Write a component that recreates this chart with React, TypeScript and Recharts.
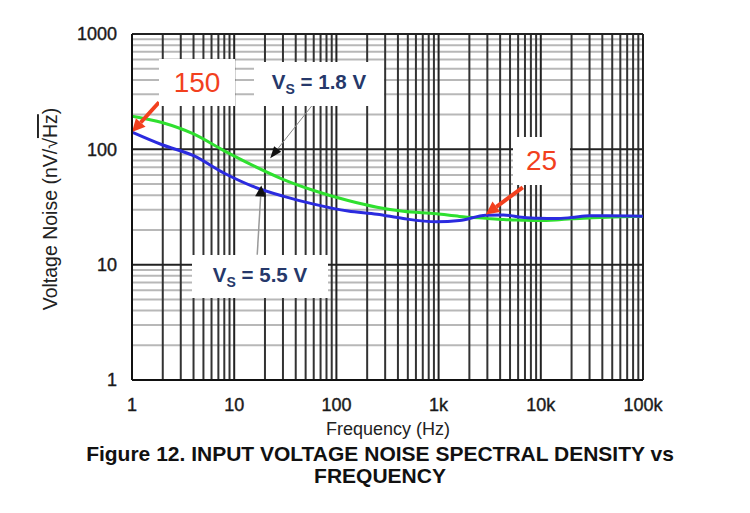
import React from "react";
import { LineChart, Line, XAxis, YAxis, ReferenceLine } from "recharts";

// frequency points (Hz)
const freqHz = [1, 2, 4, 8, 15, 30, 60, 130, 250, 450, 950, 1600, 2900, 4300, 6500, 9500, 14000, 20000, 30000, 45000, 100000];
// input voltage noise, nV/rtHz
const noiseVs18 = [194, 170, 136, 97, 73, 55, 44, 36, 31.5, 29, 27.6, 26.2, 25.2, 24.6, 24.3, 24.1, 24.4, 25, 25.4, 25.8, 26.3];
const noiseVs55 = [141, 109, 88, 62, 48, 39.3, 33.5, 29.2, 27.4, 25.1, 23.5, 24.1, 26.8, 27, 25.8, 25.2, 25.1, 25.6, 26.5, 26.5, 26.3];

const xTicks = [1, 10, 100, 1000, 10000, 100000];
const xTickLabels = ["1", "10", "100", "1k", "10k", "100k"];
const yTicks = [1, 10, 100, 1000];
const minorSteps = [2, 3, 4, 5, 6, 7, 8, 9];

const FONT = '"Liberation Sans", Arial, sans-serif';
const RED = "#f2401e";
const NAVY = "#26386a";

const data = freqHz.map((f, i) => ({ f, vs18: noiseVs18[i], vs55: noiseVs55[i] }));

const xMinor = xTicks.slice(0, -1).flatMap((d) => minorSteps.map((m) => d * m));
const yMinor = yTicks.slice(0, -1).flatMap((d) => minorSteps.map((m) => d * m));

const arrowShape = (lineColor: string, headColor: string, width: number, headLen: number, headW: number) =>
  (p: any) => {
    const { x1, y1, x2, y2 } = p;
    const dx = x2 - x1, dy = y2 - y1;
    const len = Math.hypot(dx, dy) || 1;
    const ux = dx / len, uy = dy / len;
    const bx = x2 - ux * headLen, by = y2 - uy * headLen;
    const px = (-uy * headW) / 2, py = (ux * headW) / 2;
    return (
      <g>
        <line x1={x1} y1={y1} x2={bx} y2={by} stroke={lineColor} strokeWidth={width} />
        <polygon points={`${x2},${y2} ${bx + px},${by + py} ${bx - px},${by - py}`} fill={headColor} />
      </g>
    );
  };

const YLabel = (props: any) => {
  const vb = props.viewBox || { x: 0, y: 34, height: 346 };
  const cx = 52;
  const cy = vb.y + vb.height / 2 + 2;
  return (
    <text x={cx} y={cy} transform={`rotate(-90 ${cx} ${cy})`} textAnchor="middle" dominantBaseline="middle"
      fontFamily={FONT} fontSize={19.5} fill="#222">
      Voltage Noise (nV/√<tspan textDecoration="overline">Hz</tspan>)
    </text>
  );
};

const tickStyle = { fontSize: 18, fill: "#1a1a1a", fontFamily: FONT, stroke: "#1a1a1a", strokeWidth: 0.4 };

const boxStyle: React.CSSProperties = {
  position: "absolute", background: "#fff", display: "flex",
  alignItems: "center", justifyContent: "center", fontFamily: FONT,
};

const titleStyle: React.CSSProperties = {
  position: "absolute", left: 0, width: 760, textAlign: "center", fontSize: 21,
  fontWeight: "bold", lineHeight: "23px", height: 23, color: "#111", whiteSpace: "nowrap",
};

export default function App() {
  return (
    <div style={{ position: "absolute", left: 0, top: 0, width: 750, height: 513, background: "#fff", fontFamily: FONT }}>
      <LineChart width={750} height={430} data={data} margin={{ top: 34, right: 107, bottom: 0, left: 0 }}>
        <XAxis
          dataKey="f" type="number" scale="log" domain={[1, 100000]} ticks={xTicks}
          tickFormatter={(v: number) => xTickLabels[xTicks.indexOf(v)] ?? String(v)}
          height={50} tickSize={0} tickMargin={18} axisLine={{ stroke: "#111", strokeWidth: 2 }} tickLine={false}
          tick={tickStyle} allowDataOverflow
        />
        <YAxis
          type="number" scale="log" domain={[1, 1000]} ticks={yTicks} width={132}
          tickSize={0} tickMargin={15} axisLine={{ stroke: "#111", strokeWidth: 2 }} tickLine={false}
          tick={tickStyle} allowDataOverflow
          label={{ content: <YLabel /> }}
        />
        {/* minor horizontal grid, light */}
        {yMinor.map((v) => (
          <ReferenceLine key={`hy${v}`} y={v} stroke="#b8b8b8" strokeWidth={2} />
        ))}
        {/* vertical grid, dark */}
        {xMinor.map((v) => (
          <ReferenceLine key={`vx${v}`} x={v} stroke="#333" strokeWidth={2} />
        ))}
        {/* decade lines + frame */}
        {yTicks.map((v) => (
          <ReferenceLine key={`Hy${v}`} y={v} stroke="#222" strokeWidth={2} />
        ))}
        {xTicks.map((v) => (
          <ReferenceLine key={`Vx${v}`} x={v} stroke="#222" strokeWidth={2} />
        ))}

        <Line dataKey="vs18" type="monotone" stroke="#2fe02f" strokeWidth={3} dot={false} isAnimationActive={false} />
        <Line dataKey="vs55" type="monotone" stroke="#2b2bdf" strokeWidth={3} dot={false} isAnimationActive={false} />

        {/* callout arrows */}
        <ReferenceLine segment={[{ x: 1.84, y: 256 }, { x: 1, y: 141 }]} ifOverflow="visible"
          shape={arrowShape(RED, RED, 4, 13, 13)} />
        <ReferenceLine segment={[{ x: 6660, y: 46.7 }, { x: 2900, y: 27.2 }]} ifOverflow="visible"
          shape={arrowShape(RED, RED, 4, 13, 13)} />
        <ReferenceLine segment={[{ x: 58, y: 241 }, { x: 22.5, y: 83.5 }]} ifOverflow="visible"
          shape={arrowShape("#888", "#111", 1, 12, 9)} />
        <ReferenceLine segment={[{ x: 16.8, y: 12.2 }, { x: 18.4, y: 48.6 }]} ifOverflow="visible"
          shape={arrowShape("#999", "#111", 1.5, 11, 11)} />
      </LineChart>

      <div style={{ position: "absolute", left: 133, width: 510, top: 419, textAlign: "center", fontSize: 18, color: "#222" }}>
        Frequency (Hz)
      </div>
      <div style={{ ...titleStyle, top: 442 }}>Figure 12. INPUT VOLTAGE NOISE SPECTRAL DENSITY vs</div>
      <div style={{ ...titleStyle, top: 464 }}>FREQUENCY</div>

      <div style={{ ...boxStyle, left: 159, top: 59, width: 76, height: 47, fontSize: 28, color: RED }}>150</div>
      <div style={{ ...boxStyle, left: 513, top: 137, width: 57, height: 48, fontSize: 28, color: RED }}>25</div>
      <div style={{ ...boxStyle, left: 254, top: 62, width: 130, height: 44, fontSize: 20.5, fontWeight: "bold", color: NAVY }}>
        <span>V<sub style={{ fontSize: 14 }}>S</sub> = 1.8 V</span>
      </div>
      <div style={{ ...boxStyle, left: 192, top: 255, width: 136, height: 43, fontSize: 20.5, fontWeight: "bold", color: NAVY }}>
        <span>V<sub style={{ fontSize: 14 }}>S</sub> = 5.5 V</span>
      </div>
    </div>
  );
}
